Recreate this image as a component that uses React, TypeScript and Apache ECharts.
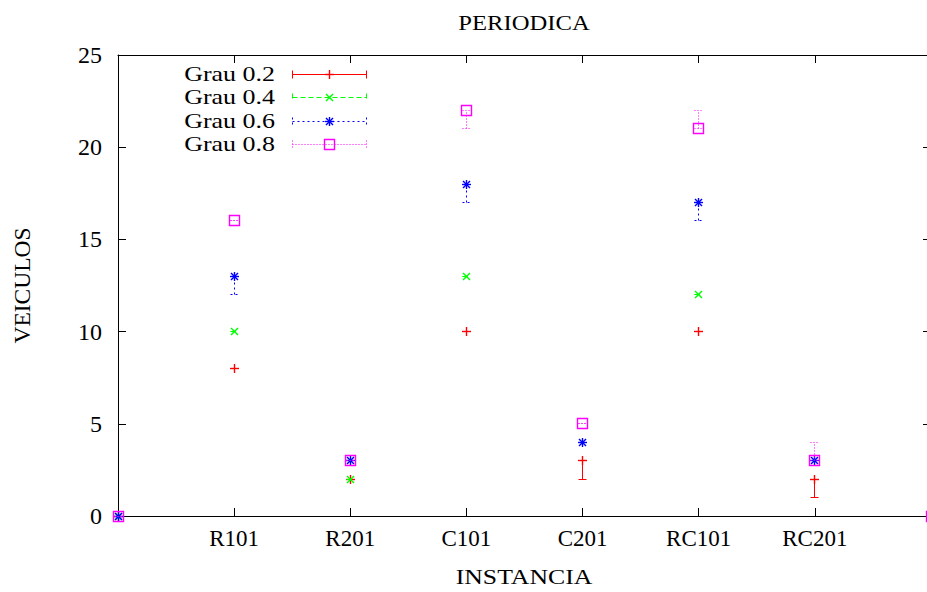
import React, { useEffect, useRef } from "react";
import * as echarts from "echarts";

// ---- data (x = 0..7, categories at 1..6) ----
const categories = ["", "R101", "R201", "C101", "C201", "RC101", "RC201", ""];
const yTicks = [0, 5, 10, 15, 20, 25];

const grau02 = [0, 8, 2, 10, 3, 10, 2, 0];
const grau02Low = [0, 8, 2, 10, 2, 10, 1, 0];
const grau02High = [0, 8, 2, 10, 3, 10, 2, 0];

const grau04 = [0, 10, 2, 13, null, 12, null, 0];
const grau04Low = [0, 10, 2, 13, null, 12, null, 0];
const grau04High = [0, 10, 2, 13, null, 12, null, 0];

const grau06 = [0, 13, 3, 18, 4, 17, 3, 0];
const grau06Low = [0, 12, 3, 17, 4, 16, 3, 0];
const grau06High = [0, 13, 3, 18, 4, 17, 3, 0];

const grau08 = [0, 16, 3, 22, 5, 21, 3, 0];
const grau08Low = [0, 16, 3, 21, 5, 21, 3, 0];
const grau08High = [0, 16, 3, 22, 5, 22, 4, 0];

const seriesNames = ["Grau 0.2", "Grau 0.4", "Grau 0.6", "Grau 0.8"];
const seriesValues = [grau02, grau04, grau06, grau08];
const seriesLows = [grau02Low, grau04Low, grau06Low, grau08Low];
const seriesHighs = [grau02High, grau04High, grau06High, grau08High];

const styles = [
  { color: "#ff0000", dash: null as number[] | null, marker: "plus" },
  { color: "#00ff00", dash: [5, 3], marker: "cross" },
  { color: "#0000ff", dash: [2, 3], marker: "star" },
  { color: "#ff00ff", dash: [1, 2], marker: "square" },
];

const FONT = "'Liberation Serif', 'Times New Roman', Times, serif";

function px(v: number) {
  return Math.round(v - 0.5) + 0.5;
}

function lineEl(
  x1: number, y1: number, x2: number, y2: number,
  color: string, dash: number[] | null, width = 1
) {
  return {
    type: "line",
    shape: { x1, y1, x2, y2 },
    style: { stroke: color, lineWidth: width, lineDash: dash || undefined, fill: null },
  };
}

function markerEls(kind: string, cx: number, cy: number, color: string) {
  const els: any[] = [];
  const h = 4.5;
  const d = 3.5;
  const w = 1.4;
  if (kind === "plus" || kind === "star") {
    els.push(lineEl(cx - h, cy, cx + h, cy, color, null, w));
    els.push(lineEl(cx, cy - h, cx, cy + h, color, null, w));
  }
  if (kind === "cross" || kind === "star") {
    els.push(lineEl(cx - d, cy - d, cx + d, cy + d, color, null, w));
    els.push(lineEl(cx - d, cy + d, cx + d, cy - d, color, null, w));
  }
  if (kind === "square") {
    els.push({
      type: "rect",
      shape: { x: cx - 5, y: cy - 5, width: 10, height: 10 },
      style: { stroke: color, lineWidth: w, fill: null },
    });
  }
  return els;
}

export default function App() {
  const ref = useRef<HTMLDivElement>(null);

  useEffect(() => {
    if (!ref.current) return;
    const chart = echarts.init(ref.current, undefined, { renderer: "svg" });

    const series = seriesNames.map((name, si) => {
      const st = styles[si];
      const data: any[] = [];
      seriesValues[si].forEach((v, i) => {
        if (v === null || v === undefined) return;
        data.push([i, v, seriesLows[si][i], seriesHighs[si][i]]);
      });
      return {
        type: "custom",
        name,
        coordinateSystem: "cartesian2d",
        xAxisIndex: 0,
        yAxisIndex: 0,
        clip: false,
        silent: true,
        data,
        encode: { x: 0, y: 1 },
        renderItem: (params: any, api: any) => {
          const x = api.value(0);
          const y = api.value(1);
          const lo = api.value(2);
          const hi = api.value(3);
          const p = api.coord([x, y]);
          const pl = api.coord([x, lo]);
          const ph = api.coord([x, hi]);
          const cx = px(p[0]);
          const cy = px(p[1]);
          const yl = px(pl[1]);
          const yh = px(ph[1]);
          const children: any[] = [];
          if (yl !== yh) children.push(lineEl(cx, yl, cx, yh, st.color, st.dash));
          children.push(lineEl(cx - 4, yl, cx + 4, yl, st.color, st.dash));
          children.push(lineEl(cx - 4, yh, cx + 4, yh, st.color, st.dash));
          children.push(...markerEls(st.marker, cx, cy, st.color));
          return { type: "group", children };
        },
      };
    });

    // legend drawn as graphic
    const legendRows = [74, 97, 121, 144];
    const graphics: any[] = [];
    seriesNames.forEach((name, si) => {
      const st = styles[si];
      const y = px(legendRows[si]);
      graphics.push({
        type: "text",
        x: 275,
        y: legendRows[si],
        scaleX: 1.18,
        style: {
          text: name,
          fontSize: 22,
          fontFamily: FONT,
          fill: "#000",
          align: "right",
          verticalAlign: "middle",
        },
      });
      const x1 = 292.5;
      const x2 = 366.5;
      graphics.push(lineEl(x1, y, x2, y, st.color, st.dash));
      graphics.push(lineEl(x1, y - 4, x1, y + 4, st.color, st.dash));
      graphics.push(lineEl(x2, y - 4, x2, y + 4, st.color, st.dash));
      graphics.push(...markerEls(st.marker, 329.5, y, st.color));
    });
    graphics.push({
      type: "text",
      x: 524,
      y: 22,
      scaleX: 1.12,
      style: {
        text: "PERIODICA",
        fontSize: 22,
        fontFamily: FONT,
        fill: "#000",
        align: "center",
        verticalAlign: "middle",
      },
    });
    graphics.push({
      type: "text",
      x: 524,
      y: 577,
      scaleX: 1.17,
      style: {
        text: "INSTANCIA",
        fontSize: 22,
        fontFamily: FONT,
        fill: "#000",
        align: "center",
        verticalAlign: "middle",
      },
    });

    const axisLine = { show: true, onZero: false, lineStyle: { color: "#000", width: 1 } };
    const axisTick = { show: true, inside: true, length: 8, lineStyle: { color: "#000", width: 1 } };

    chart.setOption({
      animation: false,
      backgroundColor: "#fff",
      grid: {
        left: 118,
        right: -4,
        top: 55,
        bottom: 76,
        containLabel: false,
        outerBoundsMode: "none",
      },
      xAxis: [
        {
          type: "value",
          position: "bottom",
          min: 0,
          max: categories.length - 1,
          interval: 1,
          axisLine,
          axisTick,
          splitLine: { show: false },
          axisLabel: {
            fontSize: 23,
            fontFamily: FONT,
            color: "#000",
            margin: 11,
            formatter: (v: number) => categories[Math.round(v)] || "",
          },
        },
        {
          type: "value",
          position: "top",
          min: 0,
          max: categories.length - 1,
          interval: 1,
          axisLine,
          axisTick,
          splitLine: { show: false },
          axisLabel: { show: false },
        },
      ],
      yAxis: [
        {
          type: "value",
          position: "left",
          min: yTicks[0],
          max: yTicks[yTicks.length - 1],
          interval: 5,
          axisLine,
          axisTick,
          splitLine: { show: false },
          axisLabel: { fontSize: 24, fontFamily: FONT, color: "#000", margin: 16 },
          name: "VEICULOS",
          nameLocation: "middle",
          nameGap: 84,
          nameTextStyle: { fontSize: 23.5, fontFamily: FONT, color: "#000" },
        },
        {
          type: "value",
          position: "right",
          min: yTicks[0],
          max: yTicks[yTicks.length - 1],
          interval: 5,
          axisLine,
          axisTick,
          splitLine: { show: false },
          axisLabel: { show: false },
        },
      ],
      graphic: graphics,
      series,
    });

    return () => chart.dispose();
  }, []);

  return (
    <div
      style={{
        position: "fixed",
        left: 0,
        top: 0,
        width: 927,
        height: 592,
        overflow: "hidden",
        background: "#fff",
      }}
    >
      <div ref={ref} style={{ width: 927, height: 592 }} />
    </div>
  );
}
